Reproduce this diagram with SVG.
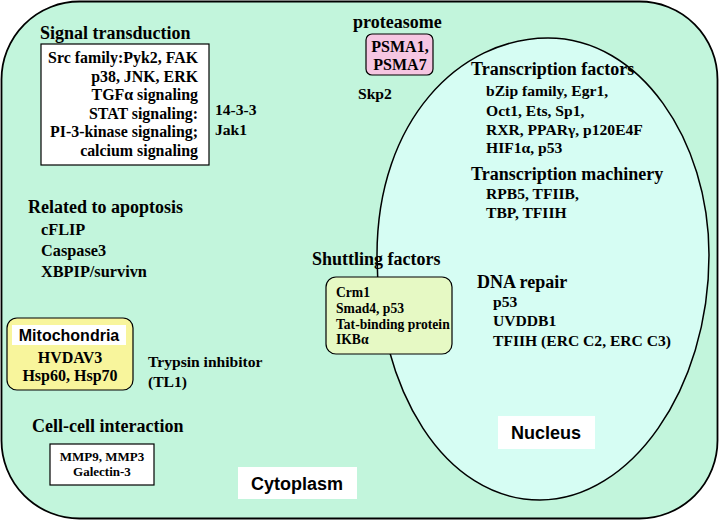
<svg xmlns="http://www.w3.org/2000/svg" width="720" height="521" viewBox="0 0 720 521">
<style>
.s{font-family:"Liberation Serif","Times New Roman",serif;font-weight:bold;fill:#000}
.h{font-size:18px}
.i{font-size:15.6px}
.a{font-family:"Liberation Sans",Arial,sans-serif;font-weight:bold;fill:#000}
.box{fill:#fff;stroke:#000;stroke-width:1.2}
</style>
<g id="cytoplasm">
<rect x="1.5" y="1.5" width="716" height="517" rx="78" ry="78" fill="#c2f5dc" stroke="#000" stroke-width="1.8"/>
</g>
<g id="nucleus">
<path d="M 377 255 C 377 120, 460 38, 548 38 C 640 38, 709 140, 709 255 C 709 390, 630 500, 540 500 C 445 500, 377 390, 377 255 Z" fill="#d6fdf3" stroke="#000" stroke-width="1.5"/>
</g>
<g id="signal-transduction">
<text class="s h" x="40" y="39">Signal transduction</text>
<rect class="box" x="41" y="44" width="168" height="121"/>
<g class="s" font-size="15.9" text-anchor="end">
<text x="198" y="63">Src family:Pyk2, FAK</text>
<text x="198" y="82">p38, JNK, ERK</text>
<text x="198" y="100">TGFα signaling</text>
<text x="198" y="119">STAT signaling:</text>
<text x="198" y="137">PI-3-kinase signaling;</text>
<text x="198" y="156">calcium signaling</text>
</g>
<text class="s i" x="215" y="115">14-3-3</text>
<text class="s i" x="215" y="135">Jak1</text>
</g>
<g id="proteasome">
<text class="s h" x="353" y="28">proteasome</text>
<rect x="366" y="34" width="67" height="41" rx="6" fill="#f6c6e2" stroke="#000" stroke-width="1.2"/>
<text class="s" font-size="16" x="400" y="52" text-anchor="middle">PSMA1,</text>
<text class="s" font-size="16" x="400" y="70" text-anchor="middle">PSMA7</text>
<text class="s i" x="358" y="99">Skp2</text>
</g>
<g id="transcription-factors">
<text class="s h" x="471" y="75">Transcription factors</text>
<text class="s i" x="486" y="96">bZip family, Egr1,</text>
<text class="s i" x="486" y="116">Oct1, Ets, Sp1,</text>
<text class="s i" x="486" y="135">RXR, PPARγ, p120E4F</text>
<text class="s i" x="486" y="153">HIF1α, p53</text>
</g>
<g id="transcription-machinery">
<text class="s h" x="471" y="180">Transcription machinery</text>
<text class="s i" x="486" y="199">RPB5, TFIIB,</text>
<text class="s i" x="486" y="218">TBP, TFIIH</text>
</g>
<g id="apoptosis">
<text class="s h" x="28" y="213">Related to apoptosis</text>
<text class="s" font-size="16.3" x="41" y="235">cFLIP</text>
<text class="s" font-size="16.3" x="41" y="256">Caspase3</text>
<text class="s" font-size="16.3" x="41" y="277">XBPIP/survivn</text>
</g>
<g id="shuttling-factors">
<text class="s h" x="312" y="265">Shuttling factors</text>
<rect x="326" y="277" width="126" height="77" rx="10" fill="#e6f9c4" stroke="#000" stroke-width="1.2"/>
<g class="s" font-size="13.6">
<text x="336" y="297">Crm1</text>
<text x="336" y="313">Smad4, p53</text>
<text x="336" y="329">Tat-binding protein</text>
<text x="336" y="344">IKBα</text>
</g>
</g>
<g id="dna-repair">
<text class="s h" x="477" y="288">DNA repair</text>
<text class="s i" x="493" y="307">p53</text>
<text class="s i" x="493" y="326">UVDDB1</text>
<text class="s i" x="493" y="346">TFIIH (ERC C2, ERC C3)</text>
</g>
<g id="mitochondria">
<rect x="7" y="318" width="126" height="72" rx="10" fill="#f8f59c" stroke="#000" stroke-width="1.2"/>
<rect x="12" y="325" width="114" height="20" fill="#fff"/>
<text class="a" font-size="16" x="69" y="341" text-anchor="middle">Mitochondria</text>
<text class="s" font-size="16" x="70" y="363" text-anchor="middle">HVDAV3</text>
<text class="s" font-size="16" x="70" y="381" text-anchor="middle">Hsp60, Hsp70</text>
</g>
<g id="trypsin-inhibitor">
<text class="s i" x="148" y="367">Trypsin inhibitor</text>
<text class="s i" x="148" y="387">(TL1)</text>
</g>
<g id="cell-cell-interaction">
<text class="s h" x="32" y="432">Cell-cell interaction</text>
<rect class="box" x="50" y="444" width="104" height="41"/>
<text class="s" font-size="13" x="102" y="461" text-anchor="middle">MMP9, MMP3</text>
<text class="s" font-size="13" x="102" y="476" text-anchor="middle">Galectin-3</text>
</g>
<g id="cytoplasm-label">
<rect x="238" y="467" width="119" height="32" fill="#fff"/>
<text class="a" font-size="18" x="297" y="490" text-anchor="middle">Cytoplasm</text>
</g>
<g id="nucleus-label">
<rect x="498" y="416" width="97" height="33" fill="#fff"/>
<text class="a" font-size="18" x="546" y="439" text-anchor="middle">Nucleus</text>
</g>
<g id="connectors"/>
</svg>
